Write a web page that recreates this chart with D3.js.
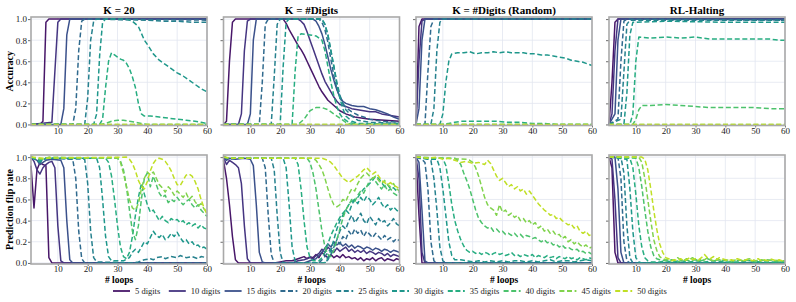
<!DOCTYPE html>
<html>
<head>
<meta charset="utf-8">
<script src="https://cdn.jsdelivr.net/npm/d3@7/dist/d3.min.js"></script>
<style>
  body { margin: 0; background: #fff; }
  text { font-family: "Liberation Serif", "DejaVu Serif", serif; }
</style>
</head>
<body>
<svg id="chart" width="796" height="302"></svg>
<script>
// ---- data ----
var loopExtent = [1, 60];
var digitCounts = [5, 10, 15, 20, 25, 30, 35, 40, 45, 50];
var seriesLabels = digitCounts.map(function(d) { return d + " digits"; });
var panelTitles = ["K = 20", "K = #Digits", "K = #Digits (Random)", "RL-Halting"];
var rowLabels = ["Accuracy", "Prediction flip rate"];
var loopTicks = [10, 20, 30, 40, 50, 60];
var rateTicks = [0, 0.2, 0.4, 0.6, 0.8, 1.0];

// each panel: one [loop, value] list per digit count, 5 .. 50
var accK20 = [
  [[1,0],[4,0],[5,0.03],[6,0.97],[7,1],[60,1]],
  [[1,0],[8,0.02],[9,0.5],[10,0.97],[11,1],[60,1]],
  [[1,0],[11,0],[12,0.15],[13,0.85],[14,1],[60,1]],
  [[1,0],[15,0],[16,0.15],[17,0.7],[18,0.98],[19,1],[60,0.99]],
  [[1,0],[19,0],[20,0.25],[21,0.8],[22,0.98],[23,1],[40,0.99],[45,0.98],[50,0.98],[55,0.97],[60,0.97]],
  [[1,0],[22,0],[23,0.1],[24,0.65],[25,0.97],[26,1],[33,1],[35,0.98],[37,0.93],[39,0.8],[40,0.76],[42,0.67],[44,0.61],[46,0.57],[48,0.53],[50,0.49],[52,0.46],[54,0.42],[56,0.38],[58,0.34],[60,0.31]],
  [[1,0],[24,0],[25,0.05],[26,0.35],[27,0.6],[28,0.68],[29,0.66],[30,0.64],[31,0.62],[32,0.61],[33,0.58],[34,0.53],[35,0.45],[36,0.35],[37,0.2],[38,0.1],[39,0.08],[41,0.08],[44,0.07],[47,0.06],[50,0.05],[53,0.04],[56,0.03],[58,0.02],[60,0.01]],
  [[1,0],[24,0],[26,0.01],[28,0.03],[30,0.04],[32,0.04],[34,0.03],[36,0.02],[38,0.01],[40,0],[60,0]],
  [[1,0],[60,0]],
  [[1,0],[60,0]]
];

var accKDigits = [
  [[1,0],[2,0.03],[3,0.6],[4,0.97],[5,1],[21,1],[22,0.96],[23,0.9],[24,0.85],[25,0.8],[26,0.75],[27,0.71],[28,0.66],[29,0.6],[30,0.54],[31,0.48],[32,0.42],[33,0.36],[34,0.31],[35,0.27],[36,0.23],[38,0.18],[40,0.13],[42,0.1],[45,0.07],[50,0.05],[55,0.04],[60,0.03]],
  [[1,0],[6,0],[7,0.1],[8,0.7],[9,0.98],[10,1],[26,1],[27,0.98],[28,0.95],[29,0.88],[30,0.8],[31,0.72],[32,0.64],[33,0.56],[34,0.48],[35,0.41],[36,0.36],[37,0.31],[38,0.26],[39,0.22],[40,0.19],[42,0.17],[44,0.15],[46,0.14],[48,0.13],[50,0.12],[52,0.12],[54,0.1],[56,0.09],[58,0.08],[60,0.07]],
  [[1,0],[9,0],[10,0.1],[11,0.8],[12,1],[31,1],[32,0.98],[33,0.93],[34,0.86],[35,0.76],[36,0.64],[37,0.52],[38,0.42],[39,0.33],[40,0.26],[41,0.22],[42,0.2],[44,0.18],[46,0.17],[48,0.17],[50,0.15],[52,0.14],[54,0.12],[56,0.1],[58,0.07],[60,0.05]],
  [[1,0],[13,0],[14,0.4],[15,0.95],[16,1],[33,1],[34,0.97],[35,0.9],[36,0.78],[37,0.62],[38,0.46],[39,0.34],[40,0.26],[41,0.2],[42,0.16],[44,0.12],[46,0.09],[48,0.07],[50,0.05],[54,0.03],[60,0.02]],
  [[1,0],[17,0],[18,0.45],[19,0.95],[20,1],[34,1],[35,0.95],[36,0.85],[37,0.7],[38,0.55],[39,0.4],[40,0.28],[41,0.2],[42,0.14],[44,0.08],[46,0.04],[50,0.02],[60,0.01]],
  [[1,0],[20,0],[21,0.55],[22,0.97],[23,1],[34,1],[35,0.95],[36,0.85],[37,0.7],[38,0.55],[39,0.38],[40,0.25],[41,0.15],[42,0.08],[44,0.03],[46,0.01],[60,0]],
  [[1,0],[24,0],[25,0.5],[26,0.84],[27,0.86],[30,0.85],[32,0.84],[34,0.8],[35,0.7],[36,0.55],[37,0.4],[38,0.27],[39,0.17],[40,0.1],[41,0.06],[43,0.02],[46,0],[60,0]],
  [[1,0],[26,0],[28,0.05],[30,0.13],[32,0.16],[34,0.16],[36,0.14],[38,0.1],[40,0.06],[42,0.02],[44,0],[60,0]],
  [[1,0],[60,0]],
  [[1,0],[60,0]]
];

var accRandom = [
  [[1,0],[2,0.93],[3,1],[60,1]],
  [[1,0],[2,0.6],[3,0.98],[4,1],[60,1]],
  [[1,0],[2,0.15],[3,0.8],[4,1],[60,1]],
  [[1,0],[4,0],[5,0.5],[6,0.93],[7,1],[60,1]],
  [[1,0],[6,0],[7,0.15],[8,0.7],[9,0.97],[10,1],[60,1]],
  [[1,0],[9,0],[10,0.1],[11,0.4],[12,0.6],[13,0.67],[15,0.68],[17,0.68],[19,0.69],[21,0.67],[23,0.68],[25,0.68],[27,0.69],[29,0.68],[31,0.69],[33,0.68],[35,0.68],[37,0.68],[39,0.67],[41,0.67],[43,0.66],[45,0.66],[47,0.65],[49,0.64],[51,0.63],[53,0.61],[55,0.6],[57,0.59],[59,0.57],[60,0.56]],
  [[1,0],[10,0],[12,0.01],[14,0.02],[16,0.03],[18,0.03],[20,0.03],[24,0.03],[28,0.03],[32,0.02],[36,0.02],[40,0.01],[44,0.01],[48,0],[60,0]],
  [[1,0],[60,0]],
  [[1,0],[60,0]],
  [[1,0],[60,0]]
];

var accRL = [
  [[1,0],[2,0.4],[3,0.97],[4,1],[60,1]],
  [[1,0],[2,0.1],[3,0.7],[4,1],[60,1]],
  [[1,0],[3,0.1],[4,0.8],[5,1],[60,1]],
  [[1,0],[4,0.05],[5,0.6],[6,0.98],[7,1],[60,0.99]],
  [[1,0],[5,0.05],[6,0.5],[7,0.95],[8,0.99],[60,0.99]],
  [[1,0],[6,0],[7,0.3],[8,0.85],[9,0.97],[20,0.98],[40,0.97],[60,0.97]],
  [[1,0],[8,0],[9,0.1],[10,0.6],[11,0.83],[15,0.82],[20,0.83],[25,0.82],[30,0.83],[35,0.81],[40,0.81],[45,0.81],[50,0.81],[55,0.81],[58,0.8],[60,0.8]],
  [[1,0],[9,0],[10,0.05],[11,0.14],[12,0.18],[15,0.18],[20,0.19],[25,0.18],[30,0.17],[35,0.16],[40,0.16],[45,0.16],[50,0.16],[55,0.15],[60,0.15]],
  [[1,0],[60,0]],
  [[1,0],[60,0]]
];

var flipK20 = [
  [[1,0.92],[2,0.52],[3,0.88],[4,0.95],[5,0.93],[6,0.92],[7,0.05],[8,0],[60,0]],
  [[1,1],[2,0.96],[3,0.88],[4,0.84],[5,0.9],[6,0.93],[7,0.95],[8,0.96],[9,0.9],[10,0.35],[11,0.02],[12,0],[60,0]],
  [[1,1],[3,0.97],[4,0.93],[5,0.95],[6,0.97],[8,0.98],[11,0.97],[12,0.9],[13,0.4],[14,0.03],[15,0],[60,0]],
  [[1,1],[3,0.98],[4,0.96],[5,0.98],[8,0.99],[15,0.98],[16,0.8],[17,0.3],[18,0.04],[19,0],[60,0]],
  [[1,1],[4,0.97],[6,0.99],[19,0.98],[20,0.75],[21,0.3],[22,0.05],[23,0.01],[35,0],[37,0.01],[39,0.03],[41,0.04],[42,0.03],[43,0.05],[45,0.06],[46,0.04],[48,0.06],[50,0.05],[51,0.07],[53,0.05],[55,0.06],[57,0.04],[58,0.06],[60,0.05]],
  [[1,1],[4,0.95],[6,0.99],[23,0.99],[24,0.9],[25,0.6],[26,0.25],[27,0.06],[28,0.02],[32,0.02],[34,0.05],[35,0.1],[36,0.13],[37,0.1],[38,0.15],[39,0.2],[40,0.18],[41,0.24],[42,0.3],[43,0.26],[44,0.24],[45,0.27],[46,0.22],[47,0.24],[48,0.28],[49,0.25],[50,0.29],[51,0.24],[52,0.2],[53,0.22],[54,0.18],[55,0.2],[56,0.16],[57,0.17],[58,0.14],[59,0.15],[60,0.13]],
  [[1,1],[4,0.97],[6,0.99],[26,0.99],[27,0.95],[28,0.82],[29,0.6],[30,0.35],[31,0.15],[32,0.06],[33,0.04],[34,0.1],[35,0.25],[36,0.45],[37,0.62],[38,0.75],[39,0.65],[40,0.55],[41,0.48],[42,0.5],[43,0.45],[44,0.4],[45,0.44],[46,0.4],[47,0.38],[48,0.42],[49,0.4],[50,0.41],[51,0.38],[52,0.4],[53,0.36],[54,0.38],[55,0.35],[56,0.37],[57,0.33],[58,0.36],[59,0.33],[60,0.32]],
  [[1,1],[4,0.98],[6,0.99],[30,0.99],[31,0.96],[32,0.88],[33,0.72],[34,0.5],[35,0.3],[36,0.22],[37,0.35],[38,0.6],[39,0.8],[40,0.85],[41,0.72],[42,0.82],[43,0.74],[44,0.66],[45,0.62],[46,0.64],[47,0.57],[48,0.6],[49,0.58],[50,0.62],[51,0.58],[52,0.55],[53,0.58],[54,0.6],[55,0.55],[56,0.52],[57,0.55],[58,0.5],[59,0.47],[60,0.44]],
  [[1,1],[5,0.98],[7,1],[30,0.99],[31,0.95],[32,0.85],[33,0.72],[34,0.6],[35,0.52],[36,0.5],[37,0.56],[38,0.7],[39,0.8],[40,0.86],[41,0.83],[42,0.86],[43,0.8],[44,0.74],[45,0.71],[46,0.67],[47,0.72],[48,0.69],[49,0.64],[50,0.68],[51,0.65],[52,0.62],[53,0.66],[54,0.6],[55,0.63],[56,0.58],[57,0.54],[58,0.56],[59,0.51],[60,0.48]],
  [[1,1],[5,0.99],[33,1],[34,0.98],[35,0.94],[36,0.87],[37,0.78],[38,0.72],[39,0.7],[40,0.77],[41,0.87],[42,0.94],[43,0.98],[44,0.99],[45,0.98],[46,0.96],[47,0.92],[48,0.87],[49,0.8],[50,0.74],[51,0.73],[52,0.78],[53,0.83],[54,0.84],[55,0.82],[56,0.77],[57,0.7],[58,0.6],[59,0.52],[60,0.46]]
];

var flipKDigits = [
  [[1,0.97],[2,0.8],[3,0.55],[4,0.25],[5,0.03],[6,0],[18,0],[20,0.01],[22,0.02],[24,0.02],[26,0.04],[28,0.06],[29,0.04],[30,0.06],[31,0.05],[32,0.08],[33,0.05],[34,0.1],[35,0.07],[36,0.05],[37,0.08],[38,0.05],[39,0.07],[40,0.05],[41,0.08],[42,0.05],[43,0.06],[44,0.04],[45,0.05],[46,0.03],[47,0.05],[48,0.02],[49,0.04],[50,0.03],[51,0.05],[52,0.02],[53,0.04],[54,0.05],[55,0.02],[56,0.04],[57,0.03],[58,0.02],[59,0.04],[60,0.03]],
  [[1,1],[2,0.93],[3,0.97],[4,0.95],[5,0.93],[6,0.9],[7,0.75],[8,0.35],[9,0.04],[10,0],[24,0],[26,0.02],[28,0.03],[30,0.05],[31,0.04],[32,0.07],[33,0.09],[34,0.13],[35,0.1],[36,0.15],[37,0.12],[38,0.1],[39,0.14],[40,0.11],[41,0.13],[42,0.15],[43,0.11],[44,0.13],[45,0.1],[46,0.12],[47,0.1],[48,0.12],[49,0.09],[50,0.11],[51,0.1],[52,0.08],[53,0.1],[54,0.09],[55,0.07],[56,0.09],[57,0.06],[58,0.08],[59,0.07],[60,0.06]],
  [[1,1],[2,0.97],[3,0.99],[5,0.98],[8,0.99],[10,0.98],[11,0.92],[12,0.55],[13,0.1],[14,0.01],[15,0],[28,0],[30,0.02],[32,0.04],[33,0.07],[34,0.1],[35,0.14],[36,0.18],[37,0.15],[38,0.2],[39,0.17],[40,0.19],[41,0.16],[42,0.18],[43,0.15],[44,0.17],[45,0.14],[46,0.16],[47,0.15],[48,0.13],[49,0.15],[50,0.14],[51,0.12],[52,0.14],[53,0.13],[54,0.11],[55,0.13],[56,0.12],[57,0.1],[58,0.12],[59,0.11],[60,0.1]],
  [[1,1],[3,0.98],[6,0.99],[14,0.99],[15,0.9],[16,0.45],[17,0.08],[18,0],[33,0],[34,0.03],[35,0.06],[36,0.1],[37,0.13],[38,0.16],[39,0.21],[40,0.18],[41,0.25],[42,0.22],[43,0.3],[44,0.26],[45,0.32],[46,0.28],[47,0.31],[48,0.25],[49,0.3],[50,0.27],[51,0.24],[52,0.28],[53,0.25],[54,0.22],[55,0.26],[56,0.22],[57,0.24],[58,0.2],[59,0.23],[60,0.21]],
  [[1,1],[3,0.99],[17,0.99],[18,0.88],[19,0.45],[20,0.1],[21,0],[35,0],[36,0.03],[37,0.08],[38,0.15],[39,0.22],[40,0.3],[41,0.35],[42,0.32],[43,0.4],[44,0.45],[45,0.38],[46,0.42],[47,0.47],[48,0.4],[49,0.37],[50,0.44],[51,0.4],[52,0.36],[53,0.42],[54,0.38],[55,0.4],[56,0.35],[57,0.38],[58,0.42],[59,0.37],[60,0.35]],
  [[1,1],[3,0.99],[21,0.99],[22,0.9],[23,0.55],[24,0.15],[25,0.02],[26,0],[35,0],[36,0.05],[37,0.12],[38,0.22],[39,0.32],[40,0.4],[41,0.45],[42,0.5],[43,0.47],[44,0.55],[45,0.6],[46,0.56],[47,0.62],[48,0.58],[49,0.63],[50,0.6],[51,0.55],[52,0.58],[53,0.62],[54,0.56],[55,0.52],[56,0.55],[57,0.5],[58,0.53],[59,0.5],[60,0.48]],
  [[1,1],[3,0.99],[25,0.99],[26,0.93],[27,0.7],[28,0.4],[29,0.15],[30,0.05],[31,0.02],[33,0.02],[34,0.05],[35,0.1],[36,0.18],[37,0.26],[38,0.32],[39,0.38],[40,0.43],[41,0.47],[42,0.5],[43,0.55],[44,0.58],[45,0.6],[46,0.62],[47,0.66],[48,0.7],[49,0.72],[50,0.75],[51,0.78],[52,0.82],[53,0.8],[54,0.76],[55,0.72],[56,0.74],[57,0.7],[58,0.71],[59,0.68],[60,0.67]],
  [[1,1],[3,0.99],[29,0.99],[30,0.95],[31,0.85],[32,0.7],[33,0.5],[34,0.3],[35,0.15],[36,0.08],[37,0.06],[38,0.12],[39,0.22],[40,0.32],[41,0.42],[42,0.5],[43,0.55],[44,0.6],[45,0.58],[46,0.64],[47,0.68],[48,0.66],[49,0.72],[50,0.78],[51,0.8],[52,0.77],[53,0.73],[54,0.7],[55,0.74],[56,0.68],[57,0.7],[58,0.66],[59,0.64],[60,0.62]],
  [[1,1],[3,0.99],[31,0.99],[32,0.97],[33,0.93],[34,0.88],[35,0.8],[36,0.7],[37,0.61],[38,0.55],[39,0.53],[40,0.55],[41,0.6],[42,0.58],[43,0.65],[44,0.7],[45,0.68],[46,0.75],[47,0.8],[48,0.83],[49,0.85],[50,0.82],[51,0.8],[52,0.82],[53,0.78],[54,0.75],[55,0.78],[56,0.74],[57,0.72],[58,0.75],[59,0.7],[60,0.68]],
  [[1,1],[4,0.99],[34,0.99],[35,0.98],[36,0.97],[37,0.95],[38,0.92],[39,0.88],[40,0.84],[41,0.8],[42,0.78],[43,0.76],[44,0.78],[45,0.8],[46,0.82],[47,0.85],[48,0.88],[49,0.9],[50,0.87],[51,0.84],[52,0.86],[53,0.82],[54,0.78],[55,0.76],[56,0.74],[57,0.76],[58,0.73],[59,0.72],[60,0.7]]
];

var flipRandom = [
  [[1,1],[2,0.45],[3,0],[60,0]],
  [[1,1],[2,0.8],[3,0.1],[4,0],[60,0]],
  [[1,1],[2,0.95],[3,0.5],[4,0.02],[5,0],[60,0]],
  [[1,1],[3,0.98],[4,0.95],[5,0.7],[6,0.2],[7,0.02],[8,0],[60,0]],
  [[1,1],[4,0.99],[6,0.97],[7,0.8],[8,0.5],[9,0.15],[10,0.02],[11,0],[60,0]],
  [[1,1],[5,0.98],[8,0.98],[9,0.9],[10,0.7],[11,0.45],[12,0.2],[13,0.07],[14,0.03],[16,0.03],[18,0.02],[20,0.01],[22,0.02],[24,0.01],[26,0.02],[28,0.01],[30,0.02],[32,0.01],[34,0.02],[36,0.02],[38,0.01],[40,0.02],[42,0.01],[44,0.02],[46,0.03],[48,0.01],[50,0.02],[52,0.02],[54,0.01],[56,0.02],[58,0.03],[60,0.02]],
  [[1,1],[6,0.99],[10,0.99],[11,0.92],[12,0.75],[13,0.55],[14,0.4],[15,0.3],[16,0.22],[17,0.16],[18,0.12],[19,0.1],[20,0.11],[21,0.09],[22,0.1],[23,0.08],[24,0.1],[25,0.09],[26,0.07],[27,0.09],[28,0.1],[29,0.08],[30,0.09],[31,0.07],[32,0.08],[33,0.1],[34,0.07],[35,0.08],[36,0.06],[37,0.08],[38,0.07],[39,0.06],[40,0.08],[41,0.05],[42,0.07],[43,0.06],[44,0.05],[45,0.07],[46,0.05],[47,0.06],[48,0.04],[49,0.06],[50,0.05],[51,0.04],[52,0.06],[53,0.04],[54,0.05],[55,0.03],[56,0.05],[57,0.04],[58,0.03],[59,0.05],[60,0.04]],
  [[1,1],[8,0.99],[14,0.99],[15,0.97],[16,0.93],[17,0.85],[18,0.78],[19,0.7],[20,0.6],[21,0.5],[22,0.42],[23,0.38],[24,0.35],[25,0.33],[26,0.34],[27,0.3],[28,0.32],[29,0.29],[30,0.3],[31,0.27],[32,0.28],[33,0.26],[34,0.28],[35,0.25],[36,0.27],[37,0.24],[38,0.26],[39,0.25],[40,0.23],[41,0.24],[42,0.22],[43,0.2],[44,0.22],[45,0.19],[46,0.2],[47,0.17],[48,0.18],[49,0.15],[50,0.17],[51,0.14],[52,0.15],[53,0.13],[54,0.12],[55,0.13],[56,0.1],[57,0.11],[58,0.09],[59,0.1],[60,0.08]],
  [[1,1],[10,0.99],[18,0.98],[19,0.97],[20,0.95],[21,0.9],[22,0.82],[23,0.72],[24,0.62],[25,0.55],[26,0.52],[27,0.5],[28,0.45],[29,0.55],[30,0.48],[31,0.5],[32,0.45],[33,0.47],[34,0.43],[35,0.45],[36,0.4],[37,0.42],[38,0.38],[39,0.4],[40,0.36],[41,0.38],[42,0.33],[43,0.35],[44,0.3],[45,0.32],[46,0.28],[47,0.3],[48,0.26],[49,0.27],[50,0.23],[51,0.25],[52,0.2],[53,0.22],[54,0.18],[55,0.2],[56,0.17],[57,0.15],[58,0.17],[59,0.14],[60,0.15]],
  [[1,1],[5,0.99],[8,1],[10,0.98],[12,0.99],[14,0.97],[16,0.95],[18,0.96],[20,0.94],[22,0.95],[24,0.93],[25,0.97],[26,0.94],[27,0.88],[28,0.82],[29,0.78],[30,0.8],[31,0.76],[32,0.72],[33,0.74],[34,0.7],[35,0.72],[36,0.68],[37,0.7],[38,0.65],[39,0.68],[40,0.64],[41,0.6],[42,0.56],[43,0.53],[44,0.5],[45,0.48],[46,0.45],[47,0.46],[48,0.42],[49,0.43],[50,0.4],[51,0.38],[52,0.36],[53,0.37],[54,0.33],[55,0.35],[56,0.3],[57,0.28],[58,0.3],[59,0.26],[60,0.27]]
];

var flipRL = [
  [[1,1],[2,0.9],[3,0.1],[4,0],[60,0]],
  [[1,1],[2,0.98],[3,0.6],[4,0.05],[5,0],[60,0]],
  [[1,1],[3,1],[4,0.7],[5,0.1],[6,0],[60,0]],
  [[1,1],[4,1],[5,0.8],[6,0.2],[7,0.02],[8,0],[60,0]],
  [[1,1],[5,1],[6,0.85],[7,0.35],[8,0.05],[9,0],[60,0]],
  [[1,1],[7,0.98],[8,0.7],[9,0.3],[10,0.05],[11,0.01],[12,0],[60,0]],
  [[1,1],[8,0.99],[9,0.9],[10,0.65],[11,0.35],[12,0.15],[13,0.05],[14,0.02],[15,0.01],[18,0.01],[20,0.02],[22,0.01],[25,0.02],[28,0.01],[30,0.02],[33,0.01],[36,0.02],[40,0.01],[44,0.01],[48,0.02],[52,0.01],[56,0.01],[60,0.01]],
  [[1,1],[10,0.99],[11,0.9],[12,0.72],[13,0.5],[14,0.3],[15,0.15],[16,0.07],[17,0.04],[18,0.03],[20,0.02],[22,0.03],[24,0.01],[26,0.03],[28,0.02],[30,0.03],[32,0.02],[34,0.04],[36,0.02],[38,0.03],[40,0.02],[42,0.01],[44,0.02],[46,0.03],[48,0.02],[50,0.01],[52,0.02],[54,0.03],[56,0.02],[58,0.01],[60,0.02]],
  [[1,1],[11,1],[12,0.95],[13,0.8],[14,0.6],[15,0.4],[16,0.22],[17,0.12],[18,0.06],[19,0.04],[20,0.03],[21,0.04],[22,0.02],[23,0.03],[24,0.05],[25,0.03],[26,0.02],[27,0.04],[28,0.03],[29,0.05],[30,0.03],[31,0.02],[32,0.04],[33,0.03],[34,0.05],[35,0.03],[36,0.02],[37,0.04],[38,0.03],[39,0.02],[40,0.03],[42,0.02],[44,0.03],[46,0.02],[48,0.04],[50,0.02],[52,0.03],[54,0.02],[56,0.03],[58,0.02],[60,0.02]],
  [[1,1],[12,1],[13,0.98],[14,0.88],[15,0.7],[16,0.5],[17,0.32],[18,0.18],[19,0.1],[20,0.05],[21,0.04],[22,0.02],[23,0.03],[24,0.02],[25,0.04],[26,0.02],[27,0.03],[28,0.05],[29,0.03],[30,0.04],[31,0.03],[32,0.05],[33,0.08],[34,0.05],[35,0.04],[36,0.06],[37,0.03],[38,0.05],[39,0.04],[40,0.03],[41,0.02],[42,0.03],[43,0.02],[44,0.04],[45,0.03],[46,0.02],[47,0.03],[48,0.04],[49,0.02],[50,0.03],[51,0.04],[52,0.02],[53,0.03],[54,0.02],[55,0.04],[56,0.03],[57,0.02],[58,0.03],[59,0.02],[60,0.02]]
];

// ---- drawing ----
var svg = d3.select("#chart");
var panelW = 176,
    colX = [31, 223.5, 416, 609];
var rows = [
  { top: 17, bottom: 125.5, panels: [accK20, accKDigits, accRandom, accRL] },
  { top: 155, bottom: 264, panels: [flipK20, flipKDigits, flipRandom, flipRL] }
];

var color = function(i) { return d3.interpolateViridis(0.06 + i * 0.094); };
var isDashed = function(i) { return i >= 3; };

rows.forEach(function(row, r) {
  var y = d3.scaleLinear().domain([-0.01, 1.02]).range([row.bottom, row.top]);

  row.panels.forEach(function(panel, c) {
    var x = d3.scaleLinear().domain(loopExtent).range([colX[c], colX[c] + panelW]);
    var g = svg.append("g");

    // grid
    g.selectAll(".gx").data(loopTicks).enter().append("line")
      .attr("x1", function(d) { return x(d); }).attr("x2", function(d) { return x(d); })
      .attr("y1", row.top).attr("y2", row.bottom)
      .attr("stroke", "#e2e6f0").attr("stroke-width", 0.8);
    g.selectAll(".gy").data(rateTicks).enter().append("line")
      .attr("x1", colX[c]).attr("x2", colX[c] + panelW)
      .attr("y1", function(d) { return y(d); }).attr("y2", function(d) { return y(d); })
      .attr("stroke", "#e2e6f0").attr("stroke-width", 0.8);

    // axes
    var xa = g.append("g").attr("transform", "translate(0," + row.bottom + ")")
      .call(d3.axisBottom(x).tickValues(loopTicks).tickSize(2).tickPadding(0));
    var ya = g.append("g").attr("transform", "translate(" + colX[c] + ",0)")
      .call(d3.axisLeft(y).tickValues(rateTicks).tickSize(3).tickPadding(1)
        .tickFormat(c === 0 ? d3.format(".1f") : function() { return ""; }));
    [xa, ya].forEach(function(a) {
      a.select(".domain").remove();
      a.selectAll("line").attr("stroke", "#444").attr("stroke-width", 0.8);
      a.selectAll("text").attr("fill", "#222").style("font-size", "9px")
        .style("font-family", "Liberation Serif, serif");
    });

    // series
    var line = d3.line()
      .x(function(d) { return x(d[0]); })
      .y(function(d) { return y(d[1]); });
    g.selectAll(".series").data(panel).enter().append("path")
      .attr("d", line)
      .attr("fill", "none")
      .attr("stroke", function(d, i) { return color(i); })
      .attr("stroke-width", 1.5)
      .attr("stroke-linejoin", "round")
      .attr("stroke-dasharray", function(d, i) { return isDashed(i) ? "5,2.6" : null; });

    // frame
    g.append("rect")
      .attr("x", colX[c]).attr("y", row.top)
      .attr("width", panelW).attr("height", row.bottom - row.top)
      .attr("fill", "none").attr("stroke", "#a9a9a9").attr("stroke-width", 1.6);

    if (r === 0) {
      g.append("text")
        .attr("x", colX[c] + panelW / 2).attr("y", 14)
        .attr("text-anchor", "middle")
        .style("font-size", "11px").style("font-weight", "bold")
        .text(panelTitles[c]);
    } else {
      g.append("text")
        .attr("x", colX[c] + panelW / 2).attr("y", 283)
        .attr("text-anchor", "middle")
        .style("font-size", "9.5px").style("font-weight", "bold")
        .text("# loops");
    }
  });

  svg.append("text")
    .attr("transform", "translate(13," + (row.top + row.bottom) / 2 + ") rotate(-90)")
    .attr("text-anchor", "middle")
    .style("font-size", "10px").style("font-weight", "bold")
    .text(rowLabels[r]);
});

// legend
var legend = svg.append("g").attr("transform", "translate(135,291)");
var item = legend.selectAll(".item").data(seriesLabels).enter().append("g")
  .attr("transform", function(d, i) { return "translate(" + i * 55.8 + ",0)"; });
item.append("line")
  .attr("x1", -22).attr("x2", -5).attr("y1", 0).attr("y2", 0)
  .attr("stroke", function(d, i) { return color(i); })
  .attr("stroke-width", 1.8)
  .attr("stroke-dasharray", function(d, i) { return isDashed(i) ? "5,2.6" : null; });
item.append("text")
  .attr("x", 0).attr("y", 3)
  .style("font-size", "8.5px").attr("fill", "#222")
  .text(function(d) { return d; });
</script>
</body>
</html>
